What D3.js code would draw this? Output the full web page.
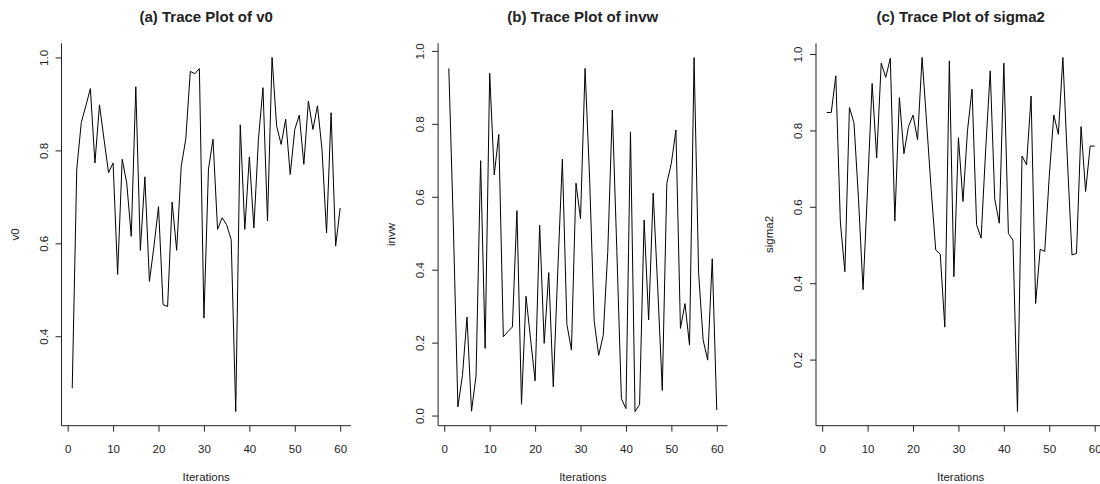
<!DOCTYPE html>
<html>
<head>
<meta charset="utf-8">
<title>trace plots</title>
<script src="https://d3js.org/d3.v7.min.js"></script>
<style>
  body { margin: 0; background: #fff; }
  svg { font-family: "Liberation Sans", Arial, sans-serif; }
  .tick text { font-size: 11.5px; fill: #222; }
  .tick line { stroke: #222; }
</style>
</head>
<body>
<svg id="chart" width="1100" height="484"></svg>
<script>
// data
const iterations = d3.range(1, 61);

const v0 = [0.288, 0.76, 0.86, 0.896, 0.933, 0.773, 0.898, 0.824, 0.752, 0.773,
            0.533, 0.781, 0.73, 0.615, 0.937, 0.585, 0.743, 0.518, 0.594, 0.679,
            0.468, 0.464, 0.689, 0.585, 0.766, 0.824, 0.970, 0.965, 0.976, 0.439,
            0.76, 0.824, 0.63, 0.655, 0.64, 0.608, 0.238, 0.855, 0.63, 0.786,
            0.633, 0.824, 0.935, 0.648, 1.0, 0.853, 0.813, 0.867, 0.748, 0.845,
            0.876, 0.77, 0.906, 0.845, 0.896, 0.802, 0.622, 0.881, 0.594, 0.676];

const invw = [0.952, 0.52, 0.024, 0.11, 0.27, 0.012, 0.11, 0.699, 0.184, 0.939,
              0.66, 0.771, 0.216, 0.23, 0.243, 0.562, 0.031, 0.327, 0.21, 0.095,
              0.522, 0.198, 0.392, 0.079, 0.40, 0.703, 0.25, 0.18, 0.637, 0.54,
              0.952, 0.65, 0.26, 0.165, 0.22, 0.45, 0.838, 0.45, 0.046, 0.019,
              0.778, 0.011, 0.03, 0.536, 0.262, 0.61, 0.35, 0.069, 0.637, 0.692,
              0.783, 0.239, 0.307, 0.193, 0.982, 0.39, 0.207, 0.152, 0.43, 0.015];

const sigma2 = [0.847, 0.847, 0.943, 0.56, 0.43, 0.86, 0.82, 0.62, 0.383, 0.65,
                0.923, 0.728, 0.976, 0.939, 0.989, 0.563, 0.886, 0.739, 0.81, 0.84,
                0.776, 0.991, 0.82, 0.645, 0.487, 0.476, 0.285, 0.982, 0.417, 0.781,
                0.614, 0.80, 0.908, 0.553, 0.518, 0.75, 0.956, 0.62, 0.557, 0.976,
                0.53, 0.513, 0.064, 0.733, 0.71, 0.89, 0.347, 0.489, 0.483, 0.68,
                0.84, 0.79, 0.991, 0.72, 0.474, 0.478, 0.81, 0.64, 0.759, 0.759];

const titles = ["(a) Trace Plot of v0", "(b) Trace Plot of invw", "(c) Trace Plot of sigma2"];
const yLabels = ["v0", "invw", "sigma2"];
const yTicks = [[0.4, 0.6, 0.8, 1.0],
                [0.0, 0.2, 0.4, 0.6, 0.8, 1.0],
                [0.2, 0.4, 0.6, 0.8, 1.0]];
const xTicks = [0, 10, 20, 30, 40, 50, 60];
const xLabel = "Iterations";

const series = [v0, invw, sigma2];

// plot regions (left edge of each panel's box)
const lefts = [61.5, 438.1, 816];
const plotW = 289.4, plotTop = 43.3, plotBottom = 425.7;

const svg = d3.select("#chart");

// R style axis range: data range widened by 4% each side
function rRange(ext) {
  const pad = (ext[1] - ext[0]) * 0.04;
  return [ext[0] - pad, ext[1] + pad];
}

series.forEach((vals, k) => {
  const left = lefts[k];
  const x = d3.scaleLinear().domain(rRange(d3.extent(iterations))).range([left, left + plotW]);
  const y = d3.scaleLinear().domain(rRange(d3.extent(vals))).range([plotBottom, plotTop]);

  const g = svg.append("g");

  // trace line
  const line = d3.line().x((d, i) => x(iterations[i])).y(d => y(d));
  g.append("path")
    .datum(vals)
    .attr("fill", "none")
    .attr("stroke", "#000")
    .attr("stroke-width", 1)
    .attr("d", line);

  // L shaped box
  g.append("path")
    .attr("fill", "none")
    .attr("stroke", "#222")
    .attr("stroke-width", 1)
    .attr("d", `M${left},${plotTop}V${plotBottom}H${left + plotW}`);

  // y axis
  const ya = g.append("g")
    .attr("transform", `translate(${left},0)`)
    .call(d3.axisLeft(y).tickValues(yTicks[k]).tickFormat(d3.format(".1f")).tickSize(6));
  ya.select(".domain").remove();
  ya.selectAll(".tick text")
    .attr("transform", "rotate(-90)")
    .attr("x", 0).attr("y", -14).attr("dy", 0)
    .attr("text-anchor", "middle");

  // x axis
  const xa = g.append("g")
    .attr("transform", `translate(0,${plotBottom})`)
    .call(d3.axisBottom(x).tickValues(xTicks).tickFormat(d3.format("d")).tickSize(6));
  xa.select(".domain").remove();
  xa.selectAll(".tick text").attr("y", 27).attr("dy", 0);

  const cx = left + plotW / 2;

  // title
  g.append("text")
    .attr("x", cx).attr("y", 22)
    .attr("text-anchor", "middle")
    .attr("font-size", "15px")
    .attr("font-weight", "bold")
    .attr("fill", "#222")
    .text(titles[k]);

  // x label
  g.append("text")
    .attr("x", cx).attr("y", 480.5)
    .attr("text-anchor", "middle")
    .attr("font-size", "11.5px")
    .attr("fill", "#222")
    .text(xLabel);

  // y label
  g.append("text")
    .attr("transform", `translate(${left - 43},${(plotTop + plotBottom) / 2}) rotate(-90)`)
    .attr("text-anchor", "middle")
    .attr("font-size", "11.5px")
    .attr("fill", "#222")
    .text(yLabels[k]);
});
</script>
</body>
</html>
